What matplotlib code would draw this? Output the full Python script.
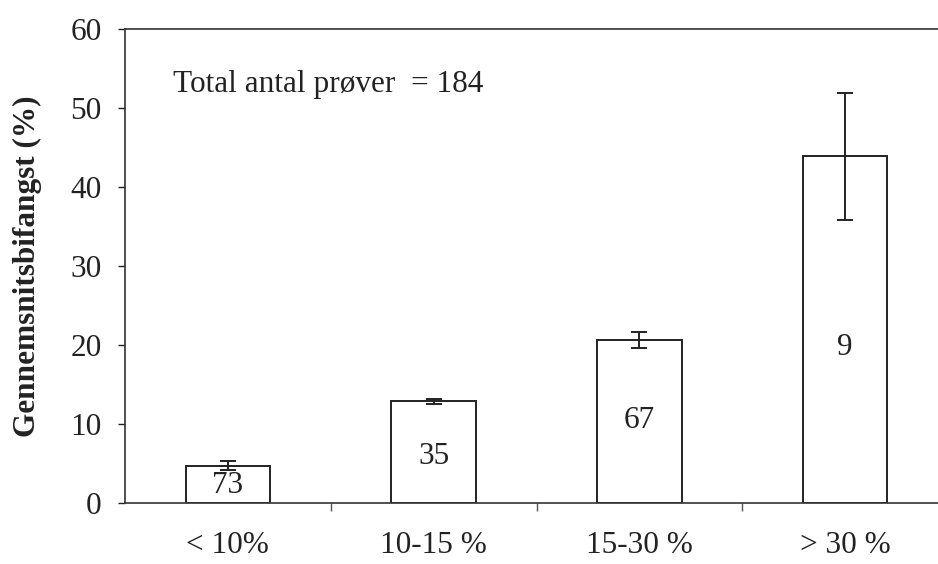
import matplotlib.pyplot as plt
import numpy as np

# data
categories = ['< 10%', '10-15 %', '15-30 %', '> 30 %']
mean_bycatch = [4.8, 12.9, 20.7, 43.9]
err = [0.6, 0.3, 1.0, 8.0]
n_samples = ['73', '35', '67', '9']
label_y = [2.3, 6.0, 10.5, 19.7]

plt.rcParams['font.family'] = ['Liberation Serif', 'DejaVu Serif']
fs = 22.5

fig = plt.figure(figsize=(9.38, 5.64), dpi=100)
ax = fig.add_axes([0.1333, 0.1073, 0.8774, 0.8413])

x = np.arange(len(categories))
ax.bar(x, mean_bycatch, width=0.41, color='white', edgecolor='#222222',
       linewidth=1.4, zorder=2)
ax.errorbar(x, mean_bycatch, yerr=err, fmt='none', ecolor='#222222',
            elinewidth=1.4, capsize=5.5, capthick=1.4, zorder=3)

for xi, s, yy in zip(x, n_samples, label_y):
    ax.text(xi, yy, s, ha='center', va='center', fontsize=fs, color='#222222')

ax.text(-0.265, 53.0, 'Total antal prøver  = 184', ha='left', va='center',
        fontsize=fs, color='#222222')

ax.set_xlim(-0.5, 3.5)
ax.set_ylim(0, 60)
ax.set_yticks([0, 10, 20, 30, 40, 50, 60])
ax.set_xticks(x)
ax.set_xticklabels(categories)
ax.set_xticks(np.arange(0.5, 3.5, 1.0), minor=True)
ax.tick_params(axis='x', which='major', length=0, pad=20, labelsize=fs,
               colors='#222222')
ax.tick_params(axis='x', which='minor', length=6, width=1.0, direction='out',
               color='#555555')
ax.tick_params(axis='y', length=5, width=1.0, direction='out', labelsize=fs,
               pad=12, colors='#222222')

for side in ['left', 'bottom', 'top', 'right']:
    ax.spines[side].set_linewidth(1.2)
    ax.spines[side].set_color('#333333')

ax.set_ylabel('Gennemsnitsbifangst (%)', fontsize=fs, fontweight='bold',
              color='#222222')
ax.yaxis.set_label_coords(-0.101, 0.50)

fig.savefig('out.png', dpi=100, facecolor='white')
